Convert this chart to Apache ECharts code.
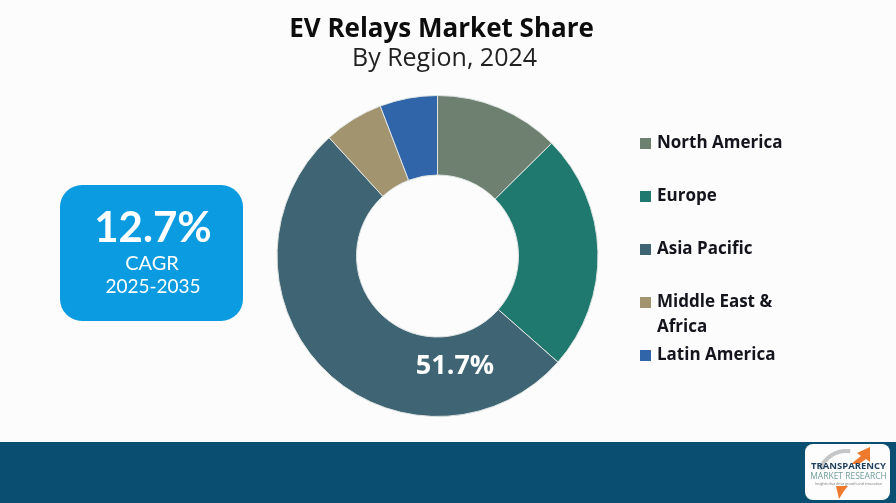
<!DOCTYPE html>
<html>
<head>
    <meta charset="utf-8">
    <title>EV Relays Market Share</title>
    <script src="https://cdn.jsdelivr.net/npm/echarts@6/dist/echarts.min.js"></script>
    <style>
        html, body { margin: 0; padding: 0; background: #fcfcfd; }
    </style>
</head>
<body>
    <div id="myChart" style="width: 896px;height:503px;"></div>
    <script>
        const regions = ['North America', 'Europe', 'Asia Pacific', 'Middle East & Africa', 'Latin America'];
        const shares = [12.6, 23.9, 51.7, 6.0, 5.8];
        const colors = ['#6e806f', '#20796f', '#3f6474', '#a39470', '#3165aa'];
        const legendTops = [135, 188, 241, 294, 347];
        const shownLabel = '51.7%';

        var myChart = echarts.init(document.getElementById('myChart'));

        var option = {
            backgroundColor: '#fcfcfd',
            animation: false,
            title: [{
                text: 'EV Relays Market Share',
                left: 436.5, top: 12, textAlign: 'center',
                textStyle: { fontFamily: 'Open Sans', fontSize: 26, fontWeight: 'bold', color: '#0d0d0d' }
            }, {
                text: 'By Region, 2024',
                left: 439.5, top: 41, textAlign: 'center',
                textStyle: { fontFamily: 'Open Sans', fontSize: 25, fontWeight: 'normal', color: '#222' }
            }],
            // one legend per item because the gaps are uneven with the two line label
            legend: regions.map((name, i) => ({
                data: [name],
                left: 640,
                top: legendTops[i],
                itemWidth: 11,
                itemHeight: 11,
                icon: 'rect',
                selectedMode: false,
                padding: 0,
                formatter: n => n.replace(' Africa', ''),
                itemStyle: { borderWidth: 0 },
                textStyle: { fontFamily: 'Open Sans', fontSize: 17, fontWeight: 'bold', color: '#14141c', padding: [0, 0, 0, 1] }
            })),
            series: [{
                type: 'pie',
                center: [437.5, 256],
                radius: [81, 160.5],
                startAngle: 90,
                clockwise: true,
                itemStyle: { borderColor: '#dfe5e3', borderWidth: 1 },
                label: { show: false },
                labelLine: { show: false },
                labelLayout: params => params.dataIndex === 2 ? { x: 455, y: 366, align: 'center', verticalAlign: 'middle' } : {},
                data: regions.map((name, i) => {
                    const d = { name: name, value: shares[i], itemStyle: { color: colors[i] } };
                    if (i === 2) {
                        d.label = { show: true, position: 'inside', formatter: shownLabel, color: '#fff', fontFamily: 'Open Sans', fontSize: 27, fontWeight: 'bold' };
                    }
                    return d;
                })
            }],
            graphic: [
                { type: 'rect', shape: { x: 0, y: 442, width: 896, height: 61 }, style: { fill: '#0a4f72' } },
                // second line of the middle east legend entry
                { type: 'text', x: 657, y: 327, style: { text: 'Africa', fill: '#14141c', font: 'bold 17px "Open Sans"', verticalAlign: 'middle' } },
                // CAGR box
                { type: 'rect', shape: { x: 60, y: 185, width: 183, height: 136, r: 22 }, style: { fill: '#0b9be0' } },
                { type: 'text', x: 153, y: 228, style: { text: '12.7%', fill: '#fff', font: 'bold 42px Lato', align: 'center', verticalAlign: 'middle' } },
                { type: 'text', x: 152, y: 264, style: { text: 'CAGR', fill: '#fff', font: '20px Lato', align: 'center', verticalAlign: 'middle' } },
                { type: 'text', x: 153, y: 287, style: { text: '2025-2035', fill: '#fff', font: '19px Lato', align: 'center', verticalAlign: 'middle' } },
                // logo
                { type: 'rect', shape: { x: 805, y: 444, width: 85, height: 56, r: 8 }, style: { fill: '#fdfdfd' } },
                { type: 'arc', shape: { cx: 846, cy: 478, r: 27, startAngle: Math.PI * 1.1, endAngle: Math.PI * 1.55 }, style: { stroke: '#c4c6c7', lineWidth: 4, fill: null } },
                { type: 'polygon', shape: { points: [[851, 464], [861, 456], [857, 453], [870, 447], [870, 462], [866, 459], [859, 464]] }, style: { fill: '#ee7a2d' } },
                { type: 'polygon', shape: { points: [[836, 486], [848, 486], [844, 491], [839, 499]] }, style: { fill: '#ee7a2d' } },
                { type: 'text', x: 848.5, y: 466.5, style: { text: 'TRANSPARENCY', fill: '#1d3f5e', font: 'bold 9.5px "Open Sans"', align: 'center', verticalAlign: 'middle' } },
                { type: 'text', x: 848.5, y: 477, style: { text: 'MARKET RESEARCH', fill: '#6f9c97', font: '8.5px "Open Sans"', align: 'center', verticalAlign: 'middle' } },
                { type: 'text', x: 848.5, y: 483.5, style: { text: 'Insights that drive growth and innovation', fill: '#777', font: '3.5px "Open Sans"', align: 'center', verticalAlign: 'middle' } }
            ]
        };
        myChart.setOption(option);
    </script>
</body>
</html>
